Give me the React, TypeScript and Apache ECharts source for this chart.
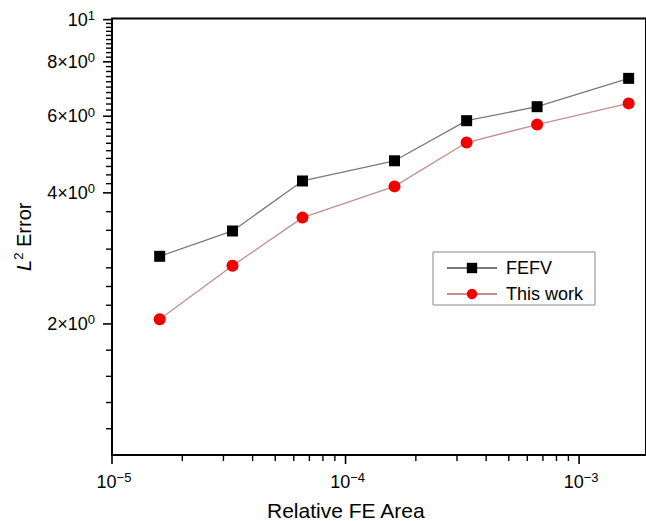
import React, { useEffect, useRef } from 'react';
import * as echarts from 'echarts';

// ---- data ----
const feArea = [1.6e-5, 3.28e-5, 6.54e-5, 1.62e-4, 3.3e-4, 6.61e-4, 1.63e-3];
const fefvError = [2.86, 3.27, 4.26, 4.74, 5.86, 6.31, 7.33];
const thisWorkError = [2.05, 2.72, 3.51, 4.14, 5.22, 5.74, 6.42];

const xMajorTicks = [1e-5, 1e-4, 1e-3];
const xMajorExponents = ['−5', '−4', '−3'];
const xMinorTicks = [2e-5, 3e-5, 4e-5, 5e-5, 6e-5, 7e-5, 8e-5, 9e-5, 2e-4, 3e-4, 4e-4, 5e-4, 6e-4, 7e-4, 8e-4, 9e-4];
const yMajorTicks = [2, 4, 6, 8, 10];
const yMajorMantissas = ['2×10', '4×10', '6×10', '8×10', '10'];
const yMajorExponents = ['0', '0', '0', '0', '1'];
const yMinorTicks = [
  1.149, 1.32, 1.516, 1.741,
  2.208, 2.438, 2.691, 2.971, 3.281, 3.622,
  4.2, 4.4, 4.6, 4.8, 5.0, 5.2, 5.4, 5.6, 5.8,
  6.2, 6.4, 6.6, 6.8, 7.0, 7.2, 7.4, 7.6, 7.8,
  8.2, 8.4, 8.6, 8.8, 9.0, 9.2, 9.4, 9.6, 9.8,
];

const X_MIN = 1e-5;
const X_MAX = 1.934e-3;
const Y_MIN = 1;
const Y_MAX = 10.06;

const FONT = '"Liberation Sans", Arial, Helvetica, sans-serif';

const labelRich = {
  b: { fontSize: 18, fontFamily: FONT, color: '#000', lineHeight: 21 },
  s: { fontSize: 13, fontFamily: FONT, color: '#000', verticalAlign: 'top', lineHeight: 13 },
};

export default function App() {
  const ref = useRef<HTMLDivElement>(null);
  useEffect(() => {
    if (!ref.current) return;
    const chart = echarts.init(ref.current, undefined, { renderer: 'svg' });
    const option: any = {
      animation: false,
      backgroundColor: '#fff',
      grid: {
        left: 112,
        top: 18.5,
        right: -2,
        bottom: 66,
        show: true,
        borderColor: '#000',
        borderWidth: 2,
        backgroundColor: 'transparent',
      },
      xAxis: {
        type: 'log',
        logBase: 10,
        min: X_MIN,
        max: X_MAX,
        axisLine: { show: false },
        axisTick: { show: false },
        axisLabel: { show: false },
        splitLine: { show: false },
      },
      yAxis: {
        type: 'log',
        logBase: 10,
        min: Y_MIN,
        max: Y_MAX,
        axisLine: { show: false },
        axisTick: { show: false },
        axisLabel: { show: false },
        splitLine: { show: false },
        name: '{i|L}{s|2}{b| Error}',
        nameLocation: 'middle',
        nameRotate: 90,
        nameGap: 76,
        nameTextStyle: {
          rich: {
            i: { fontSize: 20, fontStyle: 'italic', fontFamily: FONT, color: '#000', lineHeight: 24 },
            s: { fontSize: 13, fontFamily: FONT, color: '#000', verticalAlign: 'top', lineHeight: 13 },
            b: { fontSize: 20, fontFamily: FONT, color: '#000', lineHeight: 24 },
          },
        },
      },
      legend: {
        orient: 'vertical',
        left: 433,
        top: 252,
        data: ['FEFV', 'This work'],
        itemWidth: 50,
        itemHeight: 13,
        itemGap: 8,
        padding: [7, 12, 2, 13],
        borderColor: '#888',
        borderWidth: 1,
        backgroundColor: '#fff',
        textStyle: { fontSize: 18, fontFamily: FONT, color: '#000', padding: [0, 0, 0, 4] },
      },
      graphic: [
        {
          type: 'text',
          left: 267,
          top: 500,
          style: { text: 'Relative FE Area', fontSize: 21, fontFamily: FONT, fill: '#000' },
        },
      ],
      series: [
        {
          name: 'FEFV',
          type: 'line',
          data: feArea.map((x, i) => [x, fefvError[i]]),
          symbol: 'rect',
          symbolSize: 11,
          itemStyle: { color: '#000' },
          lineStyle: { color: '#7a7a7a', width: 1.3 },
          z: 5,
        },
        {
          name: 'This work',
          type: 'line',
          data: feArea.map((x, i) => [x, thisWorkError[i]]),
          symbol: 'circle',
          symbolSize: 12,
          itemStyle: { color: '#f20000' },
          lineStyle: { color: '#c48e8e', width: 1.3 },
          z: 5,
        },
        {
          type: 'custom',
          silent: true,
          clip: false,
          z: 4,
          data: xMajorTicks.map((v) => [v, Y_MIN]),
          renderItem: (params: any, api: any) => {
            const p = api.coord([api.value(0), Y_MIN]);
            const i = params.dataIndex;
            return {
              type: 'group',
              children: [
                { type: 'rect', shape: { x: p[0] - 0.8, y: p[1], width: 1.6, height: 9 }, style: { fill: '#000' } },
                {
                  type: 'text',
                  x: p[0] + 2,
                  y: p[1] + 16,
                  style: { text: `{b|10}{s|${xMajorExponents[i]}}`, align: 'center', verticalAlign: 'top', rich: labelRich },
                },
              ],
            };
          },
        },
        {
          type: 'custom',
          silent: true,
          clip: false,
          z: 4,
          data: xMinorTicks.map((v) => [v, Y_MIN]),
          renderItem: (params: any, api: any) => {
            const p = api.coord([api.value(0), Y_MIN]);
            return { type: 'rect', shape: { x: p[0] - 0.7, y: p[1], width: 1.4, height: 6 }, style: { fill: '#000' } };
          },
        },
        {
          type: 'custom',
          silent: true,
          clip: false,
          z: 4,
          data: yMajorTicks.map((v) => [X_MIN, v]),
          renderItem: (params: any, api: any) => {
            const p = api.coord([X_MIN, api.value(1)]);
            const i = params.dataIndex;
            return {
              type: 'group',
              children: [
                { type: 'rect', shape: { x: p[0] - 9, y: p[1] - 0.8, width: 9, height: 1.6 }, style: { fill: '#000' } },
                {
                  type: 'text',
                  x: p[0] - 17,
                  y: p[1],
                  style: { text: `{b|${yMajorMantissas[i]}}{s|${yMajorExponents[i]}}`, align: 'right', verticalAlign: 'middle', rich: labelRich },
                },
              ],
            };
          },
        },
        {
          type: 'custom',
          silent: true,
          clip: false,
          z: 4,
          data: yMinorTicks.map((v) => [X_MIN, v]),
          renderItem: (params: any, api: any) => {
            const p = api.coord([X_MIN, api.value(1)]);
            return { type: 'rect', shape: { x: p[0] - 6, y: p[1] - 0.7, width: 6, height: 1.4 }, style: { fill: '#000' } };
          },
        },
      ],
    };
    chart.setOption(option);
    return () => chart.dispose();
  }, []);
  return <div ref={ref} style={{ position: 'fixed', left: 0, top: 0, width: 646, height: 521 }} />;
}
